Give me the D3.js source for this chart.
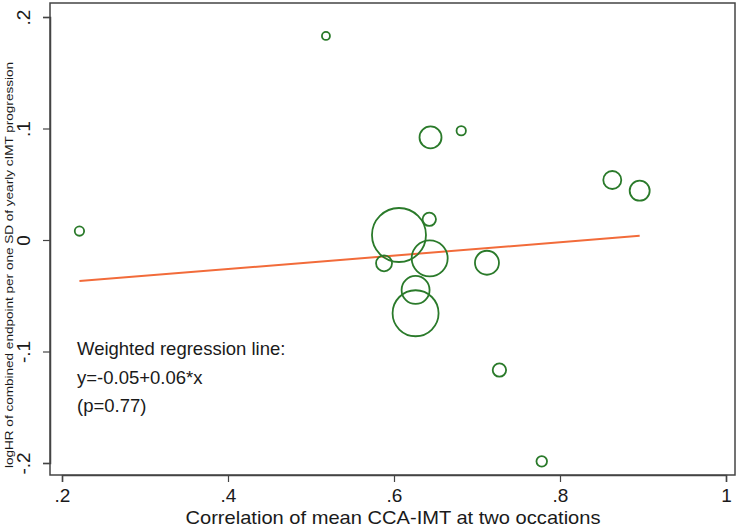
<!DOCTYPE html>
<html><head><meta charset="utf-8">
<script src="https://cdn.jsdelivr.net/npm/d3@7"></script>
<style>body{margin:0;background:#fff}svg{display:block}text{font-family:"Liberation Sans",Arial,sans-serif;fill:#1a1a1a}</style>
</head><body><svg id="c" width="740" height="529"></svg>
<script>
const corr   = [0.221, 0.518, 0.644, 0.681, 0.606, 0.6425, 0.643, 0.588, 0.712, 0.626, 0.626, 0.863, 0.896, 0.727, 0.778];
const logHR  = [0.008, 0.183, 0.092, 0.098, 0.0045, 0.0186, -0.0164, -0.0209, -0.0204, -0.0448, -0.0657, 0.0538, 0.0442, -0.1166, -0.1985];
const weight = [22, 16, 121, 22, 729, 45, 324, 64, 144, 196, 529, 81, 100, 45, 28];
const xTicks = [0.2, 0.4, 0.6, 0.8, 1];
const yTicks = [-0.2, -0.1, 0, 0.1, 0.2];
const xTickLabels = [".2", ".4", ".6", ".8", "1"];
const yTickLabels = ["-.2", "-.1", "0", ".1", ".2"];
const intercept = -0.05, slope = 0.06;
const annot = ["Weighted regression line:", "y=-0.05+0.06*x", "(p=0.77)"];
const xTitle = "Correlation of mean CCA-IMT at two occations";
const yTitle = "logHR of combined endpoint per one SD of yearly cIMT progression";

const svg = d3.select("#c");
const L = 50, R = 735, T = 3, B = 475;
const x = d3.scaleLinear().domain([0.2, 1]).range([62, 726]);
const y = d3.scaleLinear().domain([-0.2, 0.2]).range([463, 17]);
const rs = d3.scaleSqrt().domain([0, 729]).range([0, 27]);

// frame
svg.append("rect").attr("x", L).attr("y", T).attr("width", R - L).attr("height", B - T)
  .attr("fill", "none").attr("stroke", "#444").attr("stroke-width", 1.5);

// axes
const xa = svg.append("g").attr("transform", `translate(0,${B})`)
  .call(d3.axisBottom(x).tickValues(xTicks).tickFormat((d, i) => xTickLabels[i]).tickSize(7).tickPadding(7));
const ya = svg.append("g").attr("transform", `translate(${L},0)`)
  .call(d3.axisLeft(y).tickValues(yTicks).tickFormat((d, i) => yTickLabels[i]).tickSize(7).tickPadding(4));
[xa, ya].forEach(g => {
  g.select(".domain").attr("stroke", "#444").attr("stroke-width", 1.5);
  g.selectAll(".tick line").attr("stroke", "#444").attr("stroke-width", 1.2);
  g.selectAll("text").style("font-size", "19px").attr("fill", "#1a1a1a");
});
ya.selectAll(".tick text").attr("text-anchor", "middle").attr("x", 0).attr("dy", 0)
  .attr("transform", "translate(-27,0) rotate(-90)").attr("dy", "0.35em");

// titles
svg.append("text").attr("x", 393).attr("y", 524).attr("text-anchor", "middle")
  .attr("textLength", 415).attr("lengthAdjust", "spacingAndGlyphs")
  .style("font-size", "19px").text(xTitle);
svg.append("text").attr("transform", "translate(9,265) rotate(-90)").attr("text-anchor", "middle")
  .attr("dy", "0.35em").attr("textLength", 406).attr("lengthAdjust", "spacingAndGlyphs")
  .style("font-size", "11px").text(yTitle);

// regression line
const xr = d3.extent(corr);
svg.append("line")
  .attr("x1", x(xr[0])).attr("y1", y(intercept + slope * xr[0]))
  .attr("x2", x(xr[1])).attr("y2", y(intercept + slope * xr[1]))
  .attr("stroke", "#f26b3a").attr("stroke-width", 2);

// bubbles
svg.append("g").selectAll("circle").data(corr.map((c, i) => ({c, v: logHR[i], w: weight[i]})))
  .join("circle").attr("cx", d => x(d.c)).attr("cy", d => y(d.v)).attr("r", d => rs(d.w))
  .attr("fill", "none").attr("stroke", "#2a7a2a").attr("stroke-width", 1.8);

// annotation
svg.append("g").selectAll("text").data(annot).join("text")
  .attr("x", 77).attr("y", (d, i) => 355 + i * 28.5).style("font-size", "18.5px").text(d => d);
</script></body></html>
